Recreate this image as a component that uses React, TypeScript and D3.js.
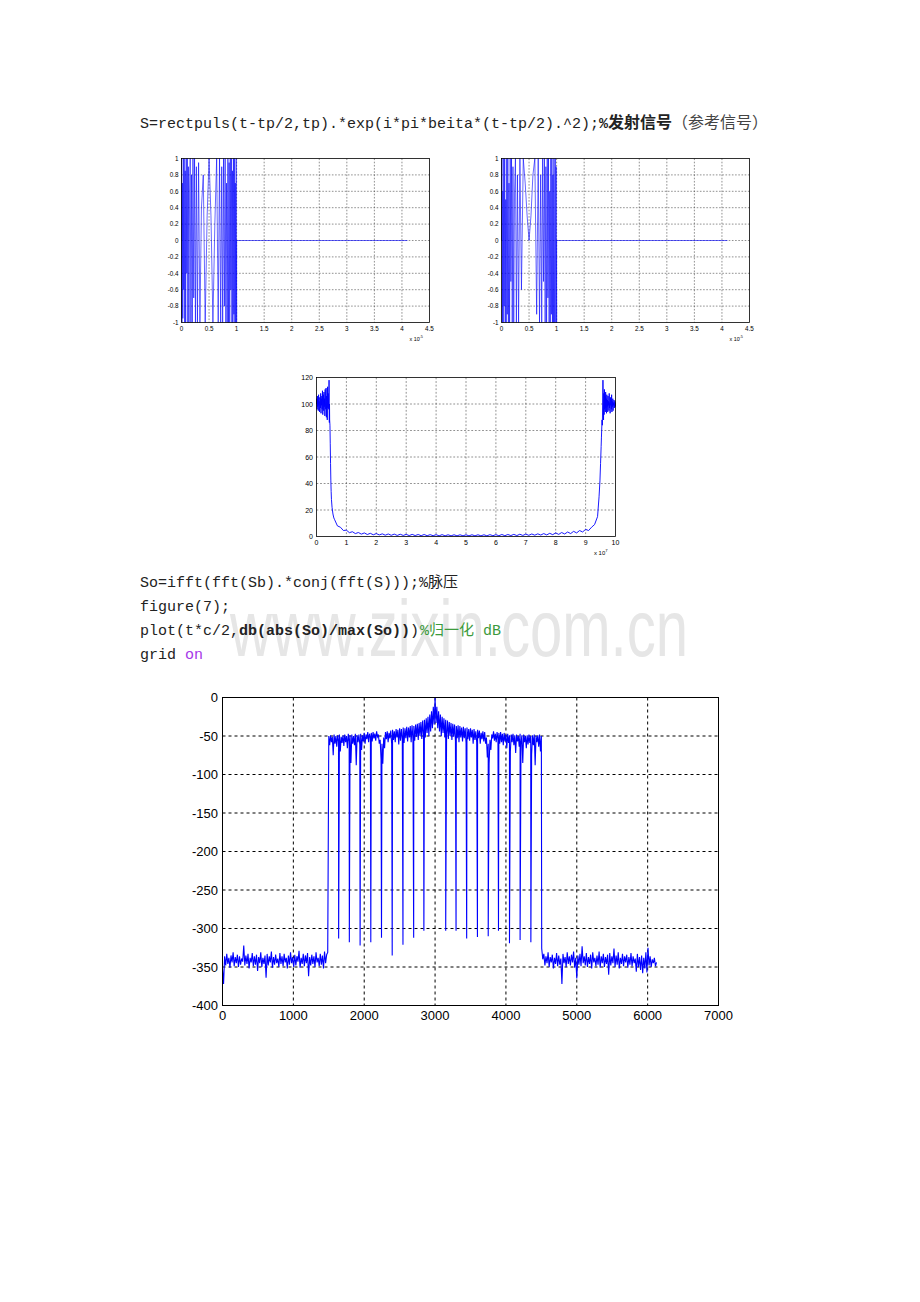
import React from 'react';
import * as d3 from 'd3';

// ---------- small charts: chirp pulse (x in units of 1e-5) ----------
const pulseT = [0.000,0.008,0.016,0.024,0.032,0.040,0.049,0.058,0.067,0.076,0.085,0.095,0.105,0.115,0.125,0.136,0.147,0.158,0.170,0.182,0.195,0.208,0.222,0.237,0.253,0.270,0.289,0.310,0.334,0.362,0.395,0.430,0.465,0.500,0.535,0.570,0.605,0.638,0.666,0.690,0.711,0.730,0.747,0.763,0.778,0.792,0.805,0.818,0.830,0.842,0.853,0.864,0.875,0.885,0.895,0.905,0.915,0.924,0.933,0.942,0.951,0.960,0.968,0.976,0.984,0.992,1.000];
const pulseRe = [1,-1,0.7,-0.95,1,-0.6,1,-1,0.85,-1,1,-0.4,1,-1,0.9,-1,0.6,1,-1,0.8,-1,1,-0.7,1,-1,0.9,-1,0.95,-1,0.4,0.8,-1,0.3,1,0.3,-1,0.2,1,-1,1,-1,0.9,-1,1,-0.8,1,-1,0.7,-1,1,-1,0.95,-1,1,-0.6,1,-1,0.85,-1,1,-0.9,1,-1,0.7,-1,1,-1];
const pulseIm = [0,1,-1,0.6,-1,1,-0.8,1,-1,0.5,-1,1,-0.9,1,-1,0.7,-1,1,-0.5,1,-1,0.9,-1,0.6,1,-1,0.8,-1,1,-0.6,1,0.7,0.3,0,0.3,0.8,1,-0.9,1,-1,0.8,-1,1,-0.5,1,-1,0.9,-1,1,-0.7,1,-1,0.6,-1,1,-0.9,1,-1,0.8,-1,1,-1,0.5,1,-1,0.9,-1];
const pulseTailT = [1.0, 4.1];
const pulseTailV = [0, 0];
const smallXTicks = [0,0.5,1,1.5,2,2.5,3,3.5,4,4.5];
const smallYTicks = [-1,-0.8,-0.6,-0.4,-0.2,0,0.2,0.4,0.6,0.8,1];

// ---------- spectrum (x in units of 1e7) ----------
const specHeadStart = 0, specHeadStep = 0.01;
const specHead = [100,104,96,106,98,103,95,107,99,102,94,105,101,97,108,93,104,99,106,96,110,92,103,107,95,109,98,104,91,111,100,96,112,90,106,102,88,113,97,108];
const specDrop: [number, number][] = [[0.41,96],[0.42,118],[0.425,95],[0.43,86],[0.435,100],[0.44,88],[0.45,84],[0.46,70],[0.47,55],[0.48,42],[0.49,34],[0.5,28],[0.52,22],[0.55,17],[0.58,14]];
const specLowStart = 0.6, specLowStep = 0.1;
const specLow = [13,8,7,4.5,4.8,2.9,3.6,2.2,3.0,1.8,2.7,1.5,2.4,1.3,2.2,1.2,2.0,1.0,1.9,0.9,1.8,0.8,1.7,0.8,1.6,0.7,1.6,0.7,1.5,0.6,1.5,0.6,1.4,0.6,1.4,0.5,1.4,0.5,1.3,0.5,1.3,0.5,1.3,0.5,1.3,0.5,1.3,0.5,1.3,0.5,1.3,0.5,1.4,0.6,1.4,0.6,1.5,0.6,1.5,0.7,1.6,0.7,1.7,0.8,1.8,0.9,1.9,1.0,2.0,1.1,2.2,1.2,2.4,1.4,2.7,1.6,3.0,1.9,3.4,2.2,3.9,2.7,4.5,3.4,5.4,4.5,7,9,15];
const specRise: [number, number][] = [[9.45,30],[9.48,42],[9.5,55],[9.52,68],[9.53,75],[9.55,88],[9.56,84],[9.57,100],[9.58,118]];
const specTailStart = 9.59, specTailStep = 0.01;
const specTail = [104,88,108,92,111,96,106,94,109,97,104,93,107,98,103,94,106,99,102,95,108,97,101,93,105,99,103,96,107,94,102,98,104,95,101,99,103,97,100,102,98,101];
const specXTicks = [0,1,2,3,4,5,6,7,8,9,10];
const specYTicks = [0,20,40,60,80,100,120];

// ---------- main chart: pulse compression in dB ----------
const floorLeftStep = 15;
const floorLeft = [-352,-372,-336,-348,-333,-346,-338,-351,-335,-344,-331,-349,-337,-345,-334,-350,-336,-347,-339,-343,-322,-348,-335,-346,-333,-352,-338,-344,-332,-349,-336,-347,-334,-355,-337,-345,-331,-350,-338,-346,-335,-364,-333,-348,-336,-344,-330,-351,-337,-347,-334,-345,-339,-350,-332,-346,-336,-349,-333,-344,-338,-352,-335,-347,-331,-345,-337,-350,-334,-348,-336,-343,-329,-351,-338,-346,-333,-349,-335,-345,-332,-362,-337,-348,-334,-346,-336,-350,-331,-344,-338,-349,-333,-347,-335,-352,-330,-345,-334,-331];
const bandStart = 1500, bandStep = 25;
const bandTop = [-50,-49,-51,-48,-50,-49,-48,-51,-49,-48,-50,-47,-49,-48,-50,-47,-49,-48,-47,-49,-46,-48,-45,-47,-46,-45,-47,-44,-48,-55,-60,-52,-45,-44,-46,-43,-42,-44,-41,-42,-40,-41,-39,-40,-38,-39,-37,-36,-37,-35,-34,-33,-32,-30,-29,-27,-25,-22,-18,-12,0,-12,-18,-22,-25,-27,-29,-30,-32,-33,-34,-35,-37,-36,-37,-39,-38,-40,-39,-41,-40,-42,-41,-44,-42,-43,-46,-44,-45,-52,-60,-55,-48,-44,-47,-45,-46,-45,-47,-46,-48,-47,-49,-48,-47,-49,-48,-50,-47,-49,-48,-50,-49,-48,-50,-49,-48,-50,-49,-48,-50];
const bandBottom = [-62,-58,-75,-60,-64,-57,-70,-59,-63,-58,-66,-57,-85,-60,-62,-88,-58,-61,-68,-57,-60,-54,-58,-52,-57,-53,-56,-51,-60,-80,-86,-66,-54,-58,-53,-60,-55,-58,-52,-61,-56,-54,-59,-53,-57,-52,-58,-54,-56,-51,-55,-50,-54,-48,-52,-46,-50,-44,-40,-35,-33,-40,-44,-50,-46,-52,-48,-54,-50,-55,-51,-56,-53,-58,-52,-57,-53,-59,-54,-56,-52,-60,-55,-58,-53,-60,-54,-57,-60,-78,-86,-68,-53,-56,-58,-54,-60,-58,-62,-57,-66,-59,-70,-58,-62,-72,-57,-64,-60,-85,-58,-66,-61,-59,-74,-62,-88,-58,-64,-70];
const nullX = [1639,1790,1942,2093,2244,2395,2547,2698,2842,3150,3296,3446,3598,3750,3895,4050,4200,4352];
const nullDepth = [-313,-318,-322,-318,-312,-335,-321,-312,-303,-303,-303,-313,-311,-310,-303,-319,-315,-318];
const floorRightStart = 4505, floorRightStep = 15;
const floorRight = [-326,-340,-333,-348,-336,-345,-331,-350,-337,-344,-334,-352,-338,-346,-332,-349,-335,-347,-339,-372,-333,-345,-337,-350,-331,-346,-336,-348,-334,-344,-330,-351,-338,-365,-335,-347,-333,-349,-323,-345,-336,-348,-332,-350,-337,-346,-334,-352,-331,-344,-338,-349,-335,-347,-330,-351,-336,-345,-333,-350,-337,-346,-334,-360,-332,-348,-336,-345,-326,-350,-335,-347,-331,-352,-338,-346,-333,-349,-336,-344,-334,-351,-337,-347,-332,-349,-336,-345,-339,-356,-333,-350,-337,-354,-335,-358,-338,-352,-331,-357,-325,-348,-336,-350,-340,-345,-338,-349,-344];
const mainXTicks = [0,1000,2000,3000,4000,5000,6000,7000];
const mainYTicks = [-400,-350,-300,-250,-200,-150,-100,-50,0];

const MONO = '"Liberation Mono", "DejaVu Sans Mono", monospace';
const CJK = '"Noto Sans CJK SC", sans-serif';
const SANS = '"Liberation Sans", Arial, sans-serif';

type Sc = d3.ScaleLinear<number, number>;

function Frame(props: {
  x: Sc; y: Sc; xTicks: number[]; yTicks: number[]; fs: number;
  gridColor: string; dash: string; gw: number; xLabY: number; yLabX: number;
  expo?: string; expoX?: number; expoY?: number;
}) {
  const { x, y, xTicks, yTicks, fs } = props;
  const [xa, xb] = x.range();
  const [yb, ya] = y.range();
  return (
    <g>
      <rect x={xa} y={ya} width={xb - xa} height={yb - ya} fill="#fff" />
      {xTicks.slice(1, -1).map((t) => (
        <line key={'gx' + t} x1={x(t)} x2={x(t)} y1={ya} y2={yb} stroke={props.gridColor} strokeWidth={props.gw} strokeDasharray={props.dash} />
      ))}
      {yTicks.slice(1, -1).map((t) => (
        <line key={'gy' + t} x1={xa} x2={xb} y1={y(t)} y2={y(t)} stroke={props.gridColor} strokeWidth={props.gw} strokeDasharray={props.dash} />
      ))}
      {xTicks.map((t) => (
        <text key={'lx' + t} x={x(t)} y={props.xLabY} fontSize={fs} fontFamily={SANS} textAnchor="middle" fill="#000">{String(t)}</text>
      ))}
      {yTicks.map((t) => (
        <text key={'ly' + t} x={props.yLabX} y={y(t) + fs * 0.36} fontSize={fs} fontFamily={SANS} textAnchor="end" fill="#000">{String(t)}</text>
      ))}
      {props.expo !== undefined && (
        <text x={props.expoX} y={props.expoY} fontSize={fs * 0.85} fontFamily={SANS} fill="#000">
          x 10<tspan fontSize={fs * 0.6} dy={-fs * 0.4}>{props.expo}</tspan>
        </text>
      )}
    </g>
  );
}

function FrameBox({ x, y, w }: { x: Sc; y: Sc; w: number }) {
  const [xa, xb] = x.range();
  const [yb, ya] = y.range();
  return <rect x={xa} y={ya} width={xb - xa} height={yb - ya} fill="none" stroke="#000" strokeWidth={w} />;
}

function PulseChart({ left, values }: { left: number; values: number[] }) {
  const x = d3.scaleLinear().domain([0, 4.5]).range([left, left + 248]);
  const y = d3.scaleLinear().domain([-1, 1]).range([322.5, 158.5]);
  const pts: [number, number][] = pulseT.map((t, i) => [t, values[i]]);
  pulseTailT.forEach((t, i) => pts.push([t, pulseTailV[i]]));
  const line = d3.line<[number, number]>().x((d) => x(d[0])).y((d) => y(d[1]));
  return (
    <g>
      <Frame x={x} y={y} xTicks={smallXTicks} yTicks={smallYTicks} fs={6.3} gridColor="#444" dash="1.6,1.6" gw={0.6}
        xLabY={331} yLabX={left - 3} expo="-5" expoX={left + 228} expoY={341} />
      <path d={line(pts) || ''} fill="none" stroke="#0000ff" strokeWidth={0.7} strokeOpacity={0.85} />
      <FrameBox x={x} y={y} w={0.8} />
    </g>
  );
}

function SpectrumChart() {
  const x = d3.scaleLinear().domain([0, 10]).range([316.5, 615.5]);
  const y = d3.scaleLinear().domain([0, 120]).range([536.5, 377.5]);
  const pts: [number, number][] = [];
  specHead.forEach((v, i) => pts.push([specHeadStart + i * specHeadStep, v]));
  specDrop.forEach((p) => pts.push(p));
  specLow.forEach((v, i) => pts.push([specLowStart + i * specLowStep, v]));
  specRise.forEach((p) => pts.push(p));
  specTail.forEach((v, i) => pts.push([specTailStart + i * specTailStep, v]));
  const line = d3.line<[number, number]>().x((d) => x(d[0])).y((d) => y(d[1]));
  return (
    <g>
      <Frame x={x} y={y} xTicks={specXTicks} yTicks={specYTicks} fs={7} gridColor="#444" dash="1.8,1.8" gw={0.6}
        xLabY={545} yLabX={313} expo="7" expoX={594} expoY={555} />
      <path d={line(pts) || ''} fill="none" stroke="#0000ff" strokeWidth={0.9} />
      <FrameBox x={x} y={y} w={0.8} />
    </g>
  );
}

function MainChart() {
  const x = d3.scaleLinear().domain([0, 7000]).range([222.5, 718.5]);
  const y = d3.scaleLinear().domain([-400, 0]).range([1005.5, 697.5]);
  const mid: [number, number][] = [];
  bandTop.forEach((v, i) => {
    mid.push([bandStart + i * bandStep, v]);
    if (i < bandTop.length - 1) mid.push([bandStart + i * bandStep + bandStep / 2, bandBottom[i]]);
  });
  nullX.forEach((nx, i) => mid.push([nx, nullDepth[i]]));
  mid.sort((a, b) => a[0] - b[0]);
  const pts: [number, number][] = [];
  floorLeft.forEach((v, i) => pts.push([i * floorLeftStep, v]));
  mid.forEach((p) => pts.push(p));
  floorRight.forEach((v, i) => pts.push([floorRightStart + i * floorRightStep, v]));
  const line = d3.line<[number, number]>().x((d) => x(d[0])).y((d) => y(d[1]));
  return (
    <g>
      <Frame x={x} y={y} xTicks={mainXTicks} yTicks={mainYTicks} fs={13} gridColor="#000" dash="3,3" gw={1}
        xLabY={1020} yLabX={218} />
      <path d={line(pts) || ''} fill="none" stroke="#0000ff" strokeWidth={1.1} />
      <FrameBox x={x} y={y} w={1} />
    </g>
  );
}

export default function App() {
  return (
    <svg width={920} height={1302} style={{ position: 'absolute', left: 0, top: 0, background: '#fff' }}>
      <rect x={0} y={0} width={920} height={1302} fill="#fff" />
      <text x={140} y={128} fontFamily={MONO} fontSize={15} fill="#222">S=rectpuls(t-tp/2,tp).*exp(i*pi*beita*(t-tp/2).^2);</text>
      <text x={599} y={128} fontFamily={MONO} fontSize={15} fontWeight="bold" fill="#222">%</text>
      <text x={608} y={128} fontFamily={CJK} fontSize={16} fontWeight="bold" fill="#222">发射信号</text>
      <text x={672} y={128} fontFamily={CJK} fontSize={16} fill="#444">（参考信号）</text>
      <PulseChart left={181.5} values={pulseRe} />
      <PulseChart left={501.5} values={pulseIm} />
      <SpectrumChart />
      <text x={230} y={656} fontFamily={SANS} fontSize={80} fill="#e6e6e6" textLength={458} lengthAdjust="spacingAndGlyphs">www.zixin.com.cn</text>
      <text x={140} y={587} fontFamily={MONO} fontSize={15} fill="#222">So=ifft(fft(Sb).*conj(fft(S)));%</text>
      <text x={428} y={587} fontFamily={CJK} fontSize={15} fill="#222">脉压</text>
      <text x={140} y={611} fontFamily={MONO} fontSize={15} fill="#222">figure(7);</text>
      <text x={140} y={635} fontFamily={MONO} fontSize={15} fill="#222">plot(t*c/2,</text>
      <text x={239} y={635} fontFamily={MONO} fontSize={15} fontWeight="bold" fill="#222">db(abs(So)/max(So))</text>
      <text x={410} y={635} fontFamily={MONO} fontSize={15} fill="#222">)</text>
      <text x={420} y={635} fontFamily={MONO} fontSize={15} fill="#3c9a3c">%</text>
      <text x={429} y={635} fontFamily={CJK} fontSize={15} fill="#3c9a3c">归一化</text>
      <text x={483} y={635} fontFamily={MONO} fontSize={15} fill="#3c9a3c">dB</text>
      <text x={140} y={659} fontFamily={MONO} fontSize={15} fill="#222">grid</text>
      <text x={185} y={659} fontFamily={MONO} fontSize={15} fill="#a637e8">on</text>
      <MainChart />
    </svg>
  );
}
